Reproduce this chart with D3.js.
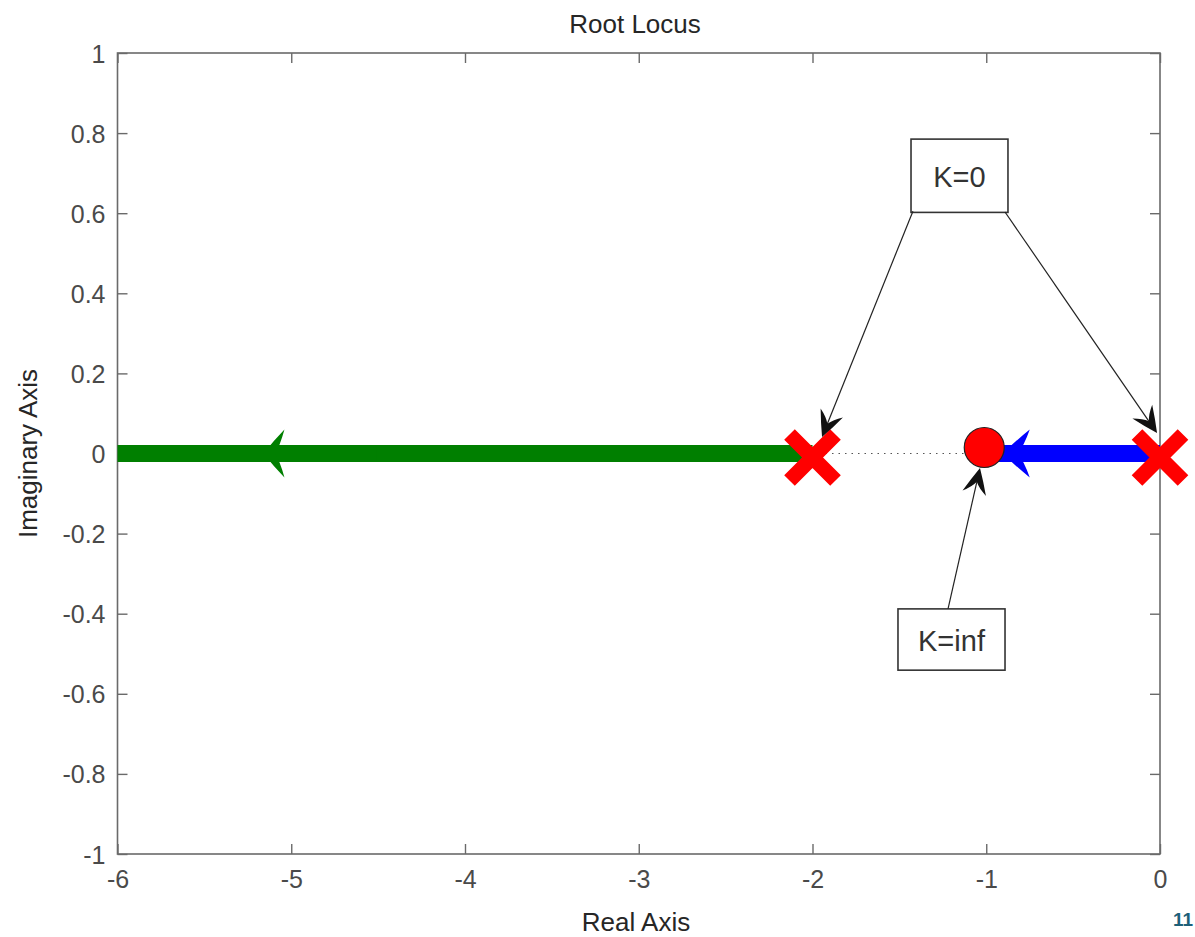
<!DOCTYPE html>
<html>
<head>
<meta charset="utf-8">
<script src="https://cdn.jsdelivr.net/npm/d3@7"></script>
<style>
  html, body { margin: 0; padding: 0; background: #fff; }
  svg { display: block; }
  text { font-family: "Liberation Sans", Arial, sans-serif; }
</style>
</head>
<body>
<svg id="chart" width="1195" height="937"></svg>
<script>
// ---- data ----
const xTicks = [-6, -5, -4, -3, -2, -1, 0];
const xTickLabels = ["-6", "-5", "-4", "-3", "-2", "-1", "0"];
const yTicks = [-1, -0.8, -0.6, -0.4, -0.2, 0, 0.2, 0.4, 0.6, 0.8, 1];
const yTickLabels = ["-1", "-0.8", "-0.6", "-0.4", "-0.2", "0", "0.2", "0.4", "0.6", "0.8", "1"];

const poles = [-2, 0];          // open-loop poles (K = 0)
const zeros = [-1];             // open-loop zero (K = inf)

// locus branches along the real axis
const branchStart = [-6, -1];
const branchEnd = [-2, 0];
const branchColor = ["#007f00", "#0000ff"];

// direction arrows on each branch: tail x, tip x, head length, head half-width
const dirTail = [-4.51, -0.55];
const dirTip = [-5.16, -0.905];
const dirHeadLen = [21, 27];
const dirHeadHalf = [24, 24];

// text annotations: label, box [x0, x1, y0, y1] in data units
const noteLabels = ["K=0", "K=inf"];
const noteBoxX0 = [-1.433, -1.508];
const noteBoxX1 = [-0.875, -0.892];
const noteBoxY0 = [0.602, -0.541];
const noteBoxY1 = [0.785, -0.388];

// pointer arrows from the annotation boxes: start (x, y) -> tip (x, y)
const ptrFromX = [-1.422, -0.892, -1.220];
const ptrFromY = [0.605, 0.603, -0.388];
const ptrToX = [-1.945, -0.017, -1.036];
const ptrToY = [0.041, 0.051, -0.036];

// ---- layout ----
const svg = d3.select("#chart");
const x = d3.scaleLinear().domain([-6, 0]).range([117.5, 1160]);
const y = d3.scaleLinear().domain([-1, 1]).range([854, 53]);

const axisColor = "#6a6a6a";
const tickText = "#4a4a4a";
const labelText = "#262626";

// axis box
svg.append("rect")
  .attr("x", x(-6)).attr("y", y(1))
  .attr("width", x(0) - x(-6)).attr("height", y(-1) - y(1))
  .attr("fill", "none").attr("stroke", axisColor).attr("stroke-width", 1.6);

function styleAxis(g) {
  g.select(".domain").remove();
  g.selectAll(".tick line").attr("stroke", axisColor).attr("stroke-width", 1.4);
  g.selectAll(".tick text").attr("fill", tickText).attr("font-size", 25)
    .attr("font-family", "'Liberation Sans', Arial, sans-serif");
}

const xFmt = d => xTickLabels[xTicks.indexOf(d)];
const yFmt = d => yTickLabels[yTicks.indexOf(d)];

svg.append("g").attr("transform", `translate(0,${y(-1)})`)
  .call(d3.axisBottom(x).tickValues(xTicks).tickFormat(xFmt).tickSize(-10))
  .call(styleAxis)
  .call(g => g.selectAll(".tick text").attr("y", 34).attr("dy", 0));

svg.append("g").attr("transform", `translate(0,${y(1)})`)
  .call(d3.axisTop(x).tickValues(xTicks).tickFormat("").tickSize(-10))
  .call(styleAxis);

svg.append("g").attr("transform", `translate(${x(-6)},0)`)
  .call(d3.axisLeft(y).tickValues(yTicks).tickFormat(yFmt).tickSize(-10))
  .call(styleAxis)
  .call(g => g.selectAll(".tick text").attr("x", -12).attr("dy", "0.36em"));

svg.append("g").attr("transform", `translate(${x(0)},0)`)
  .call(d3.axisRight(y).tickValues(yTicks).tickFormat("").tickSize(-10))
  .call(styleAxis);

// titles
svg.append("text").attr("x", 635).attr("y", 33).attr("text-anchor", "middle")
  .attr("font-size", 26).attr("fill", labelText).text("Root Locus");
svg.append("text").attr("x", 636).attr("y", 931).attr("text-anchor", "middle")
  .attr("font-size", 26).attr("fill", labelText).text("Real Axis");
svg.append("text").attr("transform", `translate(37,${y(0)}) rotate(-90)`)
  .attr("text-anchor", "middle").attr("font-size", 26).attr("fill", labelText)
  .text("Imaginary Axis");

// ---- plot content ----
const plot = svg.append("g");

// dotted real axis segment between pole and zero
plot.append("line")
  .attr("x1", x(-2)).attr("x2", x(-1)).attr("y1", y(0)).attr("y2", y(0))
  .attr("stroke", "#555").attr("stroke-width", 1.2).attr("stroke-dasharray", "1.5 5");

// locus branches
plot.selectAll("line.branch").data(branchStart).join("line")
  .attr("class", "branch")
  .attr("x1", d => x(d)).attr("x2", (d, i) => x(branchEnd[i]))
  .attr("y1", y(0)).attr("y2", y(0))
  .attr("stroke", (d, i) => branchColor[i]).attr("stroke-width", 17);

// barbed arrowhead path pointing from (tx,ty) toward tip (px,py)
function headPath(tx, ty, px, py, len, half) {
  const ang = Math.atan2(py - ty, px - tx);
  const c = Math.cos(ang), s = Math.sin(ang);
  const pt = (u, v) => [px - u * c - v * s, py - u * s + v * c];
  const tip = pt(0, 0);
  const b1 = pt(len, half), b2 = pt(len, -half);
  const notch = pt(len * 0.55, 0);
  const q1 = pt(len * 0.78, half * 0.3), q2 = pt(len * 0.78, -half * 0.3);
  const m1 = pt(len * 0.5, half * 0.55), m2 = pt(len * 0.5, -half * 0.55);
  return `M${tip}Q${m1} ${b1}Q${q1} ${notch}Q${q2} ${b2}Q${m2} ${tip}Z`;
}

// branch direction arrows
dirTip.forEach((tipX, i) => {
  plot.append("line")
    .attr("x1", x(dirTail[i])).attr("x2", x(tipX) + dirHeadLen[i] * 0.5)
    .attr("y1", y(0)).attr("y2", y(0))
    .attr("stroke", branchColor[i]).attr("stroke-width", 15);
  plot.append("path")
    .attr("d", headPath(x(dirTail[i]), y(0), x(tipX), y(0), dirHeadLen[i], dirHeadHalf[i]))
    .attr("fill", branchColor[i]);
});

// poles: red crosses
const xr = 23;
poles.forEach(p => {
  const cx = x(p), cy = y(0) + 4;
  plot.append("path")
    .attr("d", `M${cx - xr},${cy - xr}L${cx + xr},${cy + xr}M${cx - xr},${cy + xr}L${cx + xr},${cy - xr}`)
    .attr("stroke", "#ff0000").attr("stroke-width", 15).attr("fill", "none");
});

// zero: red circle
plot.selectAll("circle.zero").data(zeros).join("circle")
  .attr("class", "zero")
  .attr("cx", d => x(d) - 2).attr("cy", y(0) - 6).attr("r", 20)
  .attr("fill", "#ff0000").attr("stroke", "#222").attr("stroke-width", 1.2);

// annotation boxes
noteLabels.forEach((lbl, i) => {
  const bx0 = x(noteBoxX0[i]), bx1 = x(noteBoxX1[i]);
  const by0 = y(noteBoxY1[i]), by1 = y(noteBoxY0[i]);
  plot.append("rect")
    .attr("x", bx0).attr("y", by0).attr("width", bx1 - bx0).attr("height", by1 - by0)
    .attr("fill", "#fff").attr("stroke", "#333").attr("stroke-width", 1.6);
  plot.append("text")
    .attr("x", (bx0 + bx1) / 2).attr("y", (by0 + by1) / 2 + 11)
    .attr("text-anchor", "middle").attr("font-size", 29).attr("fill", "#333")
    .text(lbl);
});

// pointer arrows
ptrToX.forEach((tx, i) => {
  const x0 = x(ptrFromX[i]), y0 = y(ptrFromY[i]);
  const x1 = x(tx), y1 = y(ptrToY[i]);
  const ang = Math.atan2(y1 - y0, x1 - x0);
  plot.append("line")
    .attr("x1", x0).attr("y1", y0)
    .attr("x2", x1 - 14 * Math.cos(ang)).attr("y2", y1 - 14 * Math.sin(ang))
    .attr("stroke", "#222").attr("stroke-width", 1.2);
  plot.append("path")
    .attr("d", headPath(x0, y0, x1, y1, 26, 12))
    .attr("fill", "#111");
});

// page number
svg.append("text").attr("x", 1193).attr("y", 926).attr("text-anchor", "end")
  .attr("font-family", "'Liberation Serif', 'DejaVu Serif', serif")
  .attr("font-weight", "bold").attr("font-size", 19).attr("fill", "#1d6079")
  .text("11");
</script>
</body>
</html>
